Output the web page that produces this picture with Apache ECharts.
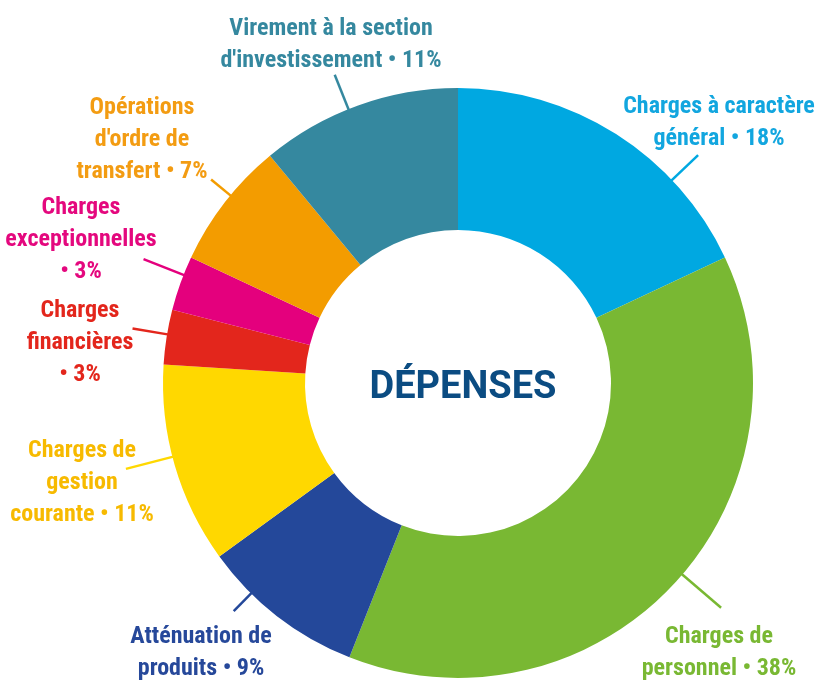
<!DOCTYPE html>
<html>
<head>
<meta charset="utf-8">
<script src="https://cdn.jsdelivr.net/npm/echarts@6/dist/echarts.min.js"></script>
<style>
  html, body { margin: 0; padding: 0; background: #fff; }
  #chart { width: 815px; height: 680px; }
</style>
</head>
<body>
<div id="chart"></div>
<script>
// data
var categories = [
  'Charges à caractère\ngénéral',
  'Charges de\npersonnel',
  'Atténuation de\nproduits',
  'Charges de\ngestion\ncourante',
  'Charges\nfinancières',
  'Charges\nexceptionnelles',
  'Opérations\nd\'ordre de\ntransfert',
  'Virement à la section\nd\'investissement'
];
var values = [18, 38, 9, 11, 3, 3, 7, 11];
var breakBeforeValue = [false, false, false, false, true, true, false, false];

var sliceColors = ['#00a8e1', '#79b833', '#24489a', '#ffd800', '#e3261c', '#e4007d', '#f39c00', '#35889f'];
var textColors  = ['#12a6df', '#79b833', '#26489a', '#f7ba00', '#e3261c', '#e4087e', '#f39c12', '#35889f'];

// label placement (guide line angle in degrees, outer end radius, label centre)
var cx = 458, cy = 383, rIn = 153, rOut = 295;
var lineAngle = [43.5, -40.5, -134.5, 194.5, 170.5, 158.5, 140.5, 111.8];
var lineEnd   = [331, 346, 320, 343, 330, 338, 320, 332];
var labelXY   = [[719, 123], [719, 653], [201, 653], [82, 483], [80, 343], [81, 240], [142, 140], [331, 45]];

var dom = document.getElementById('chart');
var myChart = echarts.init(dom, null, { renderer: 'canvas' });

var labelFont = '"Roboto Condensed", "Liberation Sans Narrow", Roboto, sans-serif';

var option = {
  animation: false,
  title: {
    text: 'DÉPENSES',
    left: cx,
    top: cy,
    textAlign: 'center',
    textVerticalAlign: 'middle',
    textStyle: {
      fontFamily: 'Roboto, sans-serif',
      fontWeight: 'bold',
      fontSize: 38,
      color: '#0b4c82'
    }
  },
  series: [
    {
      type: 'pie',
      center: [cx, cy],
      radius: [rIn, rOut],
      startAngle: 90,
      clockwise: true,
      avoidLabelOverlap: false,
      data: categories.map(function (name, i) {
        return {
          name: name,
          value: values[i],
          itemStyle: { color: sliceColors[i] },
          label: { color: textColors[i] }
        };
      }),
      label: {
        show: true,
        position: 'outside',
        fontFamily: labelFont,
        fontWeight: 'bold',
        fontSize: 24,
        lineHeight: 32,
        align: 'center',
        formatter: function (p) {
          var sep = breakBeforeValue[p.dataIndex] ? '\n' : ' ';
          return p.name + sep + '• ' + p.value + '%';
        }
      },
      labelLine: {
        show: true,
        length: 20,
        length2: 0,
        lineStyle: { width: 2.5 }
      },
      labelLayout: function (params) {
        var i = params.dataIndex;
        var a = lineAngle[i] * Math.PI / 180;
        var p0 = [cx + (rOut - 2) * Math.cos(a), cy - (rOut - 2) * Math.sin(a)];
        var p1 = [cx + lineEnd[i] * Math.cos(a), cy - lineEnd[i] * Math.sin(a)];
        return {
          x: labelXY[i][0],
          y: labelXY[i][1],
          align: 'center',
          verticalAlign: 'middle',
          labelLinePoints: [p0, p1, p1]
        };
      },
      emphasis: { disabled: true }
    }
  ]
};

myChart.setOption(option);
window.addEventListener('resize', myChart.resize);
</script>
</body>
</html>
